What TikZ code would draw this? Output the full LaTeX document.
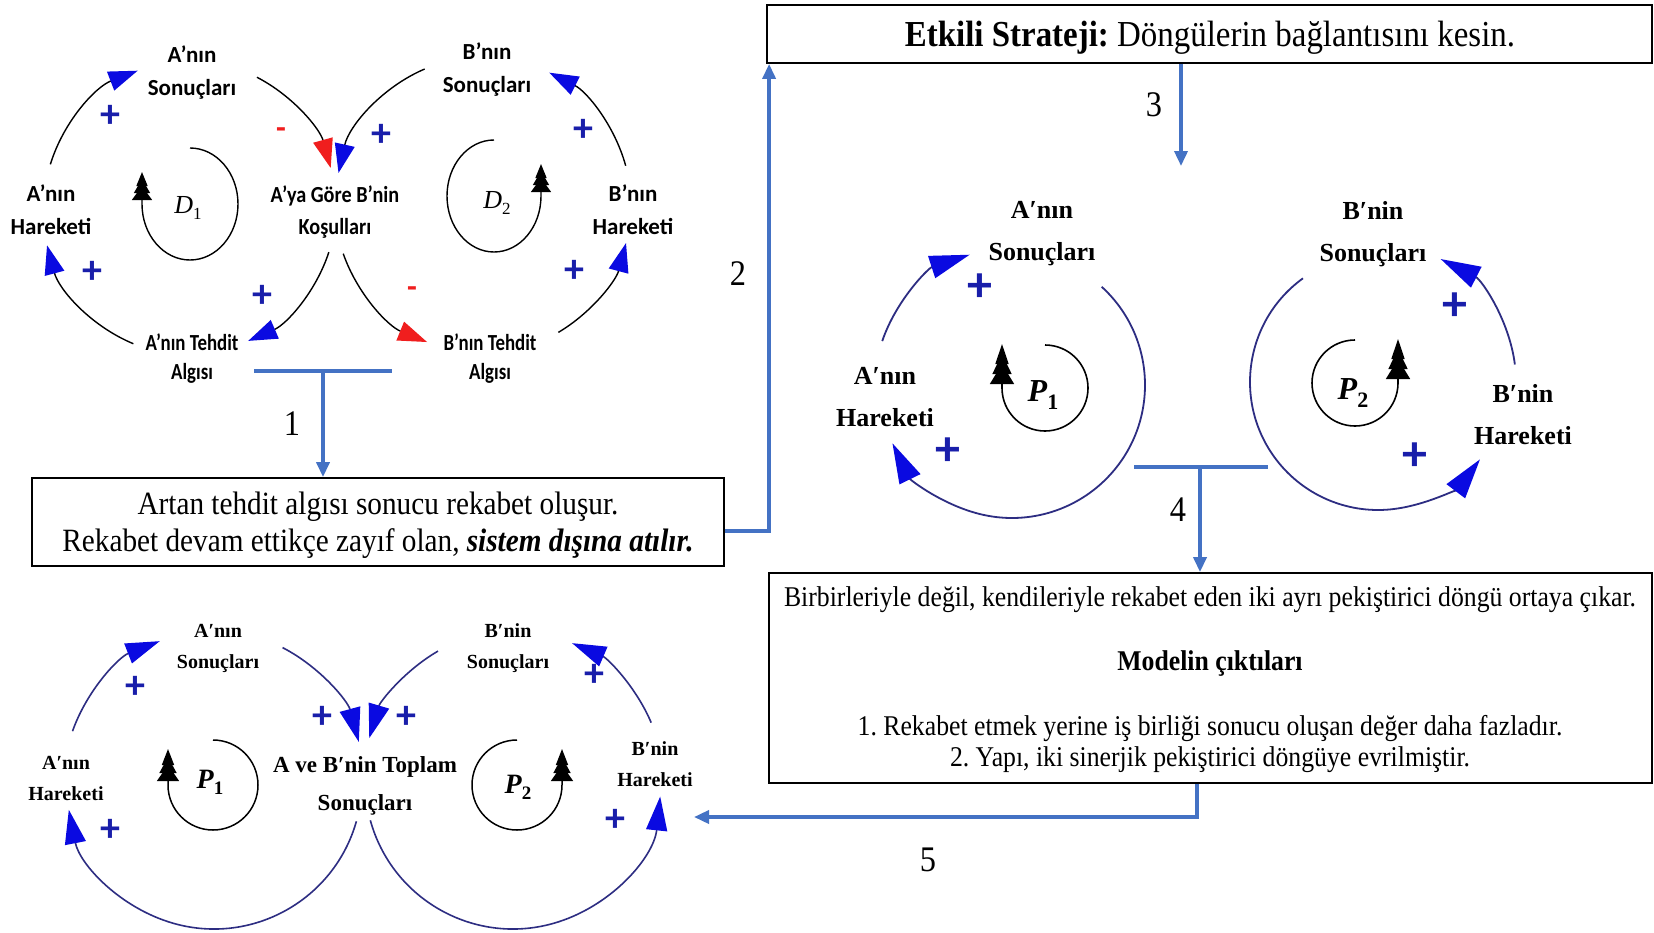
\documentclass[tikz,border=0pt]{standalone}
\usepackage{fontspec}
\usetikzlibrary{arrows.meta}
\frenchspacing
\newfontfamily\boxfont{Liberation Serif}[FakeStretch=0.9]
\newfontfamily\cldserif{Liberation Serif}
\newfontfamily\cldsans{Carlito}
\newfontfamily\cldsansK{Carlito}[FakeStretch=0.88]
\newfontfamily\cldsansT{Carlito}[FakeStretch=0.82]
\newcommand\loopname[4]{{\cldserif\fontsize{#3}{#3}\selectfont #1\raisebox{-0.22em}{\fontsize{#4}{#4}\selectfont\upshape #2}}}
\definecolor{flowblue}{RGB}{68,114,196}
\definecolor{headblue}{RGB}{10,10,225}
\definecolor{plusblue}{RGB}{25,30,170}
\definecolor{navyline}{RGB}{45,45,130}
\definecolor{headred}{RGB}{240,30,30}
\tikzset{
  flowarrow/.style={draw=flowblue, line width=3.5pt, -{Triangle[length=15pt,width=13pt]}},
  flowbar/.style={draw=flowblue, line width=3.5pt},
  txtbox/.style={draw=black, line width=1.8pt, fill=white, inner sep=0pt},
  boxtext/.style={font=\boxfont\fontsize{#1}{#1}\selectfont, inner sep=0pt},
  numlbl/.style={font=\boxfont\fontsize{36}{40}\selectfont, inner sep=0pt},
  sanslbl/.style={font=\cldsans\bfseries\fontsize{23}{33}\selectfont, align=center, inner sep=0pt},
  serlblB/.style={font=\cldserif\bfseries\fontsize{26}{42}\selectfont, align=center, inner sep=0pt},
  serlblC/.style={font=\cldserif\bfseries\fontsize{20}{31}\selectfont, align=center, inner sep=0pt},
  pluslbl/.style={font=\cldsans\bfseries\fontsize{#1}{#1}\selectfont, text=plusblue, inner sep=0pt},
  minuslbl/.style={font=\cldsans\bfseries\fontsize{32}{32}\selectfont, text=headred, inner sep=0pt},
  linkA/.style={draw=black, line width=1.4pt, -{Triangle[length=29pt,width=20pt,color=#1]}},
  linkA/.default=headblue,
  linkB/.style={draw=navyline, line width=1.8pt, -{Triangle[length=40pt,width=23pt,color=headblue]}},
  linkC/.style={draw=navyline, line width=1.6pt, -{Triangle[length=34pt,width=21pt,color=headblue]}},
  loopA/.style={draw=black, line width=1.4pt, -{Triangle[length=14pt,width=20pt,sep=-7pt] Triangle[length=14pt,width=16pt,sep=-7pt] Triangle[length=14pt,width=11pt]}},
  loopB/.style={draw=black, line width=1.6pt, -{Triangle[length=20pt,width=24pt,sep=-10pt] Triangle[length=20pt,width=19pt,sep=-10pt] Triangle[length=20pt,width=13pt]}},
  loopC/.style={draw=black, line width=1.5pt, -{Triangle[length=16pt,width=22pt,sep=-8pt] Triangle[length=16pt,width=17pt,sep=-8pt] Triangle[length=16pt,width=12pt]}},
}
\begin{document}
\begin{tikzpicture}[x=1pt,y=-1pt]
\fill[white] (0,0) rectangle (1654,932);
\useasboundingbox (0,0) rectangle (1654,932);

% ---------------- top-left CLD ----------------
\node[sanslbl] (aS) at (192,73) {A’nın\\Sonuçları};
\node[sanslbl] (bS) at (487,70) {B’nın\\Sonuçları};
\node[sanslbl] (aH) at (51,210) {A’nın\\Hareketi};
\node[sanslbl] (bH) at (633,210) {B’nın\\Hareketi};
\node[sanslbl, font=\cldsansK\bfseries\fontsize{23}{32}\selectfont] (kos) at (335,212) {A’ya Göre B’nin\\Koşulları};
\node[sanslbl, font=\cldsansT\bfseries\fontsize{23}{29}\selectfont] (aT) at (192,359) {A’nın Tehdit\\Algısı};
\node[sanslbl, font=\cldsansT\bfseries\fontsize{23}{29}\selectfont] (bT) at (490,359) {B’nın Tehdit\\Algısı};

\coordinate (cL) at (190,207);
\coordinate (cR) at (483,205);
\draw[linkA] (cL) ++(197:146) arc[start angle=-197, end angle=-249, radius=146pt];
\draw[linkA] (cL) ++(112.5:148) arc[start angle=-112.5, end angle=-165, radius=148pt];
\draw[linkA] (cL) ++(18:146) arc[start angle=-18, end angle=-66.5, radius=146pt];
\draw[linkA=headred] (cL) ++(-62.7:146) arc[start angle=62.7, end angle=15.5, radius=146pt];
\draw[linkA] (cR) ++(246.8:148) arc[start angle=-246.8, end angle=-192.5, radius=148pt];
\draw[linkA] (cR) ++(-15.4:148) arc[start angle=15.4, end angle=63.4, radius=148pt];
\draw[linkA] (cR) ++(59.4:148) arc[start angle=-59.4, end angle=-14.9, radius=148pt];
\draw[linkA=headred] (cR) ++(160.8:148) arc[start angle=-160.8, end angle=-112.2, radius=148pt];

\draw[loopA] (190,148) arc[start angle=90, end angle=-180, x radius=48pt, y radius=56pt] -- ++(0,-32);
\draw[loopA] (494,140) arc[start angle=90, end angle=360, x radius=47pt, y radius=56pt] -- ++(0,-32);
\node[inner sep=0pt] (d1) at (188,208) {\loopname{\itshape D}{1}{26}{17}};
\node[inner sep=0pt] (d2) at (497,203) {\loopname{\itshape D}{2}{26}{17}};

\node[pluslbl=40] (s1) at (110,116) {+};
\node[pluslbl=40] (s2) at (92,272) {+};
\node[pluslbl=40] (s3) at (262,296) {+};
\node[minuslbl] (s4) at (281,133) {-};
\node[pluslbl=40] (s5) at (381,135) {+};
\node[minuslbl] (s6) at (412,292) {-};
\node[pluslbl=40] (s7) at (574,271) {+};
\node[pluslbl=40] (s8) at (583,130) {+};

% ---------------- top-right CLD ----------------
\node[serlblB] (aS2) at (1042,234) {A′nın\\Sonuçları};
\node[serlblB] (aH2) at (885,397) {A′nın\\Hareketi};
\node[serlblB] (bS2) at (1373,234) {B′nin\\Sonuçları};
\node[serlblB] (bH2) at (1523,415) {B′nin\\Hareketi};
\coordinate (cA) at (1012,385);
\coordinate (cB) at (1378,382);
\draw[linkB] (cA) ++(198.7:137) arc[start angle=-198.7, end angle=-252, radius=137pt];
\draw[linkB] (cA) ++(-47.6:133) arc[start angle=47.6, end angle=-154, radius=133pt];
\draw[linkB] (cB) ++(-7.3:138) arc[start angle=7.3, end angle=63, radius=138pt];
\draw[linkB] (cB) ++(234.1:128) arc[start angle=-234.1, end angle=-37.2, radius=128pt];
\draw[loopB] (1045,345) arc[start angle=90, end angle=-180, radius=43pt] -- ++(0,-44);
\draw[loopB] (1355,340) arc[start angle=90, end angle=360, radius=43pt] -- ++(0,-44);
\node[inner sep=0pt] (pa1) at (1043,395) {\loopname{\bfseries\itshape P}{\bfseries 1}{32}{22}};
\node[inner sep=0pt] (pa2) at (1353,393) {\loopname{\bfseries\itshape P}{\bfseries 2}{32}{22}};
\node[pluslbl=50] (s9) at (980,288) {+};
\node[pluslbl=50] (s10) at (948,452) {+};
\node[pluslbl=50] (s11) at (1455,307) {+};
\node[pluslbl=50] (s12) at (1415,457) {+};

% ---------------- bottom CLD ----------------
\node[serlblC] (aS3) at (218,648) {A′nın\\Sonuçları};
\node[serlblC] (aH3) at (66,778) {A′nın\\Hareketi};
\node[serlblC, font=\cldserif\bfseries\fontsize{23}{38}\selectfont] (tS3) at (365,786) {A ve B′nin Toplam\\Sonuçları};
\node[serlblC] (bS3) at (508,648) {B′nin\\Sonuçları};
\node[serlblC] (bH3) at (655,764) {B′nin\\Hareketi};
\coordinate (cL2) at (214,781);
\coordinate (cR2) at (513,781);
\draw[linkC] (cL2) ++(199.4:150) arc[start angle=-199.4, end angle=-248.8, radius=150pt];
\draw[linkC] (cL2) ++(-62.8:150) arc[start angle=62.8, end angle=15.1, radius=150pt];
\draw[linkC] (cL2) ++(15.8:148) arc[start angle=-15.8, end angle=-168.8, radius=148pt];
\draw[linkC] (cR2) ++(240:150) arc[start angle=-240, end angle=-196.6, radius=150pt];
\draw[linkC] (cR2) ++(-22.9:150) arc[start angle=22.9, end angle=66.8, radius=150pt];
\draw[linkC] (cR2) ++(164.6:148) arc[start angle=-164.6, end angle=-6, radius=148pt];
\draw[loopC] (213,740) arc[start angle=90, end angle=-180, radius=45pt] -- ++(0,-36);
\draw[loopC] (517,740) arc[start angle=90, end angle=360, radius=45pt] -- ++(0,-36);
\node[inner sep=0pt] (pb1) at (210,782) {\loopname{\bfseries\itshape P}{\bfseries 1}{28}{19}};
\node[inner sep=0pt] (pb2) at (518,787) {\loopname{\bfseries\itshape P}{\bfseries 2}{28}{19}};
\node[pluslbl=40] (s13) at (135,687) {+};
\node[pluslbl=40] (s14) at (322,717) {+};
\node[pluslbl=40] (s15) at (110,830) {+};
\node[pluslbl=40] (s16) at (406,717) {+};
\node[pluslbl=40] (s17) at (594,675) {+};
\node[pluslbl=40] (s18) at (615,820) {+};

% ---------------- boxes ----------------
\node[txtbox, minimum width=885pt, minimum height=58pt] (topbox) at (1209.5,34) {};
\node[boxtext=36.6] (toptxt) at (1210,38) {\textbf{Etkili Strateji:} Döngülerin bağlantısını kesin.};
\node[txtbox, minimum width=692pt, minimum height=88pt] (box1) at (378,522) {};
\node[align=center, inner sep=0pt, font=\boxfont\fontsize{32.5}{37}\selectfont] (box1txt) at (378,525) {Artan tehdit algısı sonucu rekabet oluşur.\\Rekabet devam ettikçe zayıf olan, \textbf{\textit{sistem dışına atılır.}}};
\node[txtbox, minimum width=883pt, minimum height=210pt] (box2) at (1210.5,678) {};
\node[boxtext=28.6] (b2l1) at (1210,600) {Birbirleriyle değil, kendileriyle rekabet eden iki ayrı pekiştirici döngü ortaya çıkar.};
\node[boxtext=28.6] (b2l2) at (1210,664) {\textbf{Modelin çıktıları}};
\node[boxtext=28.6] (b2l3) at (1210,729) {1. Rekabet etmek yerine iş birliği sonucu oluşan değer daha fazladır.};
\node[boxtext=28.6] (b2l4) at (1210,760) {2. Yapı, iki sinerjik pekiştirici döngüye evrilmiştir.};

% ---------------- flow connectors ----------------
\coordinate (t1l) at (254,371);
\coordinate (t1r) at (392,371);
\coordinate (t1m) at (323,371);
\draw[flowbar] (t1l) -- (t1r);
\draw[flowarrow] (t1m) -- (t1m |- box1.north);
\draw[flowarrow] ([yshift=-9pt]box1.east) -| ([xshift=3pt]topbox.south west);
\coordinate (a3end) at (1181,166);
\draw[flowarrow] ([xshift=-28.5pt]topbox.south) -- (a3end);
\coordinate (t4l) at (1134,467);
\coordinate (t4r) at (1268,467);
\coordinate (t4m) at (1200,467);
\draw[flowbar] (t4l) -- (t4r);
\draw[flowarrow] (t4m) -- (t4m |- box2.north);
\coordinate (a5e) at (694,817);
\draw[flowarrow] ([xshift=-13.5pt]box2.south) |- (a5e);

\node[numlbl] (n1) at (292,424) {1};
\node[numlbl] (n2) at (738,274) {2};
\node[numlbl] (n3) at (1154,105) {3};
\node[numlbl] (n4) at (1178,510) {4};
\node[numlbl] (n5) at (928,860) {5};
\end{tikzpicture}
\end{document}
